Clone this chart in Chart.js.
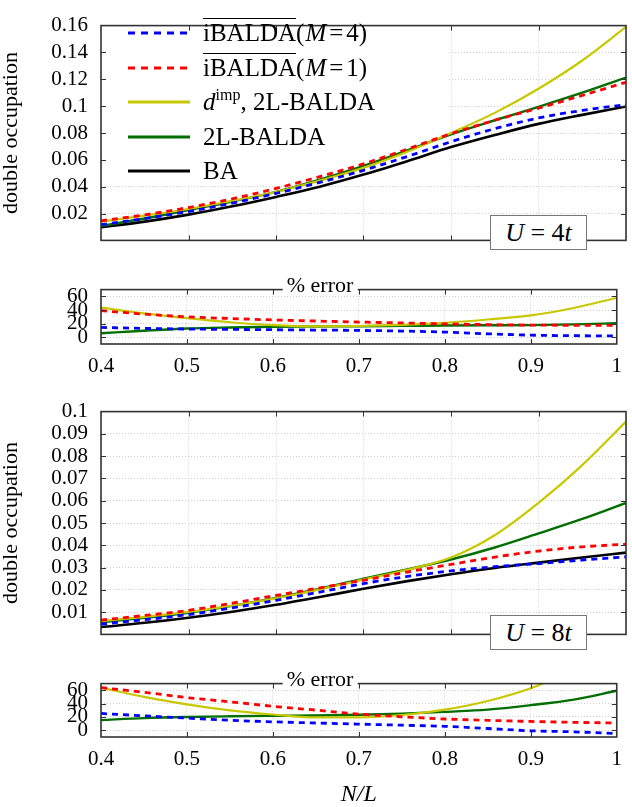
<!DOCTYPE html>
<html>
<head>
<meta charset="utf-8">
<title>double occupation</title>
<script src="https://cdn.jsdelivr.net/npm/chart.js@4.4.1/dist/chart.umd.min.js"></script>
<style>
  body { margin: 0; background: #fff; }
  #page { position: relative; width: 632px; height: 807px; overflow: hidden; font-family: 'Liberation Serif', serif; color: #000; }
  canvas { position: absolute; left: 0; }
  #legend { position: absolute; left: 104px; top: 12px; width: 278px; height: 176px; }
  .row { position: absolute; left: 0; width: 100%; height: 25px; }
  .row svg { position: absolute; left: 24px; top: 10px; }
  .txt { position: absolute; left: 99px; top: 0; font-size: 25px; line-height: 25px; white-space: nowrap; }
  .ov { text-decoration: overline; text-decoration-thickness: 1px; }
  .eq { margin: 0 3px; }
  .par { margin-left: 1px; }
  .txt sup { font-size: 16px; line-height: 0; vertical-align: 10px; }
  .ubox { position: absolute; left: 490px; width: 97px; height: 35px; box-sizing: border-box; border: 1px solid #777; background: #fff; font-size: 26px; line-height: 33px; text-align: center; white-space: nowrap; }
  .err { position: absolute; left: 320px; transform: translateX(-50%); background: #fff; padding: 0 4px; font-size: 22px; line-height: 22px; white-space: nowrap; }
</style>
</head>
<body>
<div id="page">
  <canvas id="u4" width="632" height="266" style="top:0"></canvas>
  <canvas id="u4err" width="632" height="120" style="top:264px"></canvas>
  <canvas id="u8" width="632" height="274" style="top:386px"></canvas>
  <canvas id="u8err" width="632" height="149" style="top:658px"></canvas>

  <div id="legend">
    <div class="row" style="top:8px"><svg width="62" height="6"><line x1="0" y1="3" x2="62" y2="3" stroke="#0000ff" stroke-width="3" stroke-dasharray="7 6"/></svg><span class="txt"><span class="ov">iBALDA</span>(<i class="par">M</i><span class="eq">=</span>4)</span></div>
    <div class="row" style="top:43px"><svg width="62" height="6"><line x1="0" y1="3" x2="62" y2="3" stroke="#ff0000" stroke-width="3" stroke-dasharray="7 6"/></svg><span class="txt"><span class="ov">iBALDA</span>(<i class="par">M</i><span class="eq">=</span>1)</span></div>
    <div class="row" style="top:77px"><svg width="62" height="6"><line x1="0" y1="3" x2="62" y2="3" stroke="#c8c800" stroke-width="3"/></svg><span class="txt"><i>d</i><sup>imp</sup>, 2L-BALDA</span></div>
    <div class="row" style="top:112px"><svg width="62" height="6"><line x1="0" y1="3" x2="62" y2="3" stroke="#006e00" stroke-width="3"/></svg><span class="txt">2L-BALDA</span></div>
    <div class="row" style="top:146px"><svg width="62" height="6"><line x1="0" y1="3" x2="62" y2="3" stroke="#000" stroke-width="3"/></svg><span class="txt">BA</span></div>
  </div>

  <div class="ubox" style="top:215px"><i>U</i>&nbsp;=&nbsp;4<i>t</i></div>
  <div class="ubox" style="top:615px"><i>U</i>&nbsp;=&nbsp;8<i>t</i></div>
  <div class="err" style="top:274px">% error</div>
  <div class="err" style="top:668px">% error</div>
</div>

<script>
// filling N/L
const nL = [0.4, 0.45, 0.5, 0.55, 0.6, 0.65, 0.7, 0.75, 0.8, 0.85, 0.9, 0.95, 1.0];

// U = 4t, double occupation
const iBaldaM4_U4 = [0.0117, 0.0163, 0.0215, 0.0278, 0.035, 0.0432, 0.0522, 0.0625, 0.0735, 0.0832, 0.0912, 0.0968, 0.1012];
const iBaldaM1_U4 = [0.0146, 0.019, 0.0245, 0.031, 0.0387, 0.0475, 0.057, 0.068, 0.0795, 0.0895, 0.0985, 0.108, 0.1178];
const dImp_U4 = [0.014, 0.0185, 0.0234, 0.0295, 0.036, 0.0445, 0.054, 0.066, 0.080, 0.095, 0.113, 0.134, 0.159];
const twoL_U4 = [0.0108, 0.0163, 0.0226, 0.029, 0.0362, 0.0453, 0.0555, 0.067, 0.079, 0.0895, 0.0995, 0.110, 0.1213];
const ba_U4 = [0.0098, 0.014, 0.0192, 0.0254, 0.0324, 0.040, 0.049, 0.059, 0.0695, 0.0785, 0.0868, 0.0935, 0.0998];

// U = 4t, % error
const errM4_U4 = [14.4, 13, 12, 11.5, 11, 10.5, 10, 9, 7.5, 5, 3, 2.2, 2];
const errM1_U4 = [39, 34, 30, 27.5, 25.4, 23.8, 22.3, 21, 19.5, 18.5, 17.8, 17.5, 17.3];
const errDImp_U4 = [43.5, 35, 28, 22, 17.8, 16, 16.5, 18, 21, 26, 32, 43, 58];
const errTwoL_U4 = [5.8, 9.5, 12.7, 14.3, 15.4, 15.8, 16.1, 16.6, 17.1, 17.5, 17.8, 18.8, 20.6];

// U = 8t, double occupation
const iBaldaM4_U8 = [0.0046, 0.0066, 0.0089, 0.0119, 0.0153, 0.019, 0.0228, 0.026, 0.0285, 0.0304, 0.0318, 0.0334, 0.0348];
const iBaldaM1_U8 = [0.0064, 0.0085, 0.0108, 0.014, 0.0175, 0.0209, 0.0243, 0.028, 0.0314, 0.0347, 0.0374, 0.0393, 0.0405];
const dImp_U8 = [0.006, 0.0079, 0.0101, 0.0129, 0.0162, 0.0202, 0.0246, 0.029, 0.0345, 0.0445, 0.059, 0.076, 0.0955];
const twoL_U8 = [0.0054, 0.0074, 0.0097, 0.0128, 0.0164, 0.0205, 0.025, 0.0292, 0.0336, 0.039, 0.0453, 0.0518, 0.059];
const ba_U8 = [0.0033, 0.0052, 0.0075, 0.0102, 0.0133, 0.0168, 0.0205, 0.0239, 0.027, 0.0298, 0.0322, 0.0345, 0.0367];

// U = 8t, % error
const errM4_U8 = [25.3, 21.7, 18.3, 15, 12.7, 11, 9.3, 7.7, 6, 2.7, -0.7, -2.3, -4.7];
const errM1_U8 = [64, 57, 49, 42.7, 36, 30.3, 24.3, 20.3, 17, 15, 13.3, 12, 11];
const errDImp_U8 = [64, 50, 39, 30, 23.7, 19.3, 19.3, 23, 31, 44, 63, 92, 130];
const errTwoL_U8 = [15.3, 18.3, 20, 21, 21.7, 22.3, 23.3, 25, 27.7, 31, 37.7, 46, 59.3];

// tick labels
const xTicks = [0.4, 0.5, 0.6, 0.7, 0.8, 0.9, 1];
const u4Ticks = [0.02, 0.04, 0.06, 0.08, 0.1, 0.12, 0.14, 0.16];
const u8Ticks = [0.01, 0.02, 0.03, 0.04, 0.05, 0.06, 0.07, 0.08, 0.09, 0.1];
const errTicks = [0, 20, 40, 60];

const SERIF = "'Liberation Serif', serif";

// line look for each method
const looks = [
  { color: '#0000ff', dash: [6, 5], width: 2.8 },
  { color: '#ff0000', dash: [6, 5], width: 2.8 },
  { color: '#c8c800', dash: [], width: 2.2 },
  { color: '#006e00', dash: [], width: 2.4 },
  { color: '#000000', dash: [], width: 2.6 }
];

const pts = ys => nL.map((x, i) => ({ x: x, y: ys[i] }));

// white patch under the legend: hides the grid, curves still drawn on top
const legendPatch = {
  id: 'legendPatch',
  beforeDatasetsDraw(chart, args, opts) {
    if (!opts.rect) return;
    const r = opts.rect;
    chart.ctx.save();
    chart.ctx.fillStyle = '#fff';
    chart.ctx.fillRect(r[0], r[1], r[2] - r[0], r[3] - r[1]);
    chart.ctx.restore();
  }
};

// frame + inner tick marks like pgfplots
const framePlugin = {
  id: 'frame',
  afterDraw(chart) {
    const { ctx, chartArea: a, scales } = chart;
    ctx.save();
    ctx.strokeStyle = '#333';
    ctx.lineWidth = 1;
    ctx.beginPath();
    scales.y.ticks.forEach(t => {
      const p = Math.round(scales.y.getPixelForValue(t.value)) + 0.5;
      if (p > a.top + 2 && p < a.bottom - 2) {
        ctx.moveTo(a.left, p); ctx.lineTo(a.left + 5, p);
        ctx.moveTo(a.right, p); ctx.lineTo(a.right - 5, p);
      }
    });
    scales.x.ticks.forEach(t => {
      const p = Math.round(scales.x.getPixelForValue(t.value)) + 0.5;
      if (p > a.left + 2 && p < a.right - 2) {
        ctx.moveTo(p, a.top); ctx.lineTo(p, a.top + 5);
        ctx.moveTo(p, a.bottom); ctx.lineTo(p, a.bottom - 5);
      }
    });
    ctx.stroke();
    ctx.lineWidth = 1.6;
    ctx.strokeRect(a.left, a.top, a.right - a.left, a.bottom - a.top);
    ctx.restore();
  }
};

function panel(id, series, o) {
  return new Chart(document.getElementById(id), {
    type: 'line',
    data: {
      datasets: series.map((ys, i) => ({
        data: pts(ys),
        borderColor: looks[i].color,
        borderDash: looks[i].dash,
        borderWidth: looks[i].width,
        pointRadius: 0,
        cubicInterpolationMode: 'monotone',
        clip: 0
      }))
    },
    options: {
      responsive: false,
      animation: false,
      events: [],
      layout: { padding: { top: o.padTop, right: 6, left: 0, bottom: 0 } },
      plugins: {
        legend: { display: false },
        tooltip: { enabled: false },
        legendPatch: { rect: o.patch || null }
      },
      scales: {
        x: {
          type: 'linear', min: 0.4, max: 1,
          afterBuildTicks: s => { s.ticks = xTicks.map(v => ({ value: v })); },
          afterFit: s => { s.height = o.xHeight; },
          grid: { color: '#c4c4c4', lineWidth: 0.8, drawTicks: false },
          border: { display: false, dash: [1, 2] },
          ticks: {
            display: o.showX, autoSkip: false, padding: 10, color: '#000', maxRotation: 0,
            font: { family: SERIF, size: 21 },
            callback: v => String(+v.toFixed(2))
          },
          title: {
            display: !!o.xTitle, text: o.xTitle || '', color: '#000',
            font: { family: SERIF, size: 24, style: 'italic', lineHeight: 1 },
            padding: 0
          }
        },
        y: {
          min: o.min, max: o.max,
          afterBuildTicks: s => { s.ticks = o.ticks.map(v => ({ value: v })); },
          afterFit: s => { s.width = 101; },
          grid: { color: '#c4c4c4', lineWidth: 0.8, drawTicks: false },
          border: { display: false, dash: [1, 2] },
          ticks: {
            autoSkip: false, padding: 13, color: '#000',
            font: { family: SERIF, size: 21 },
            callback: v => String(+v.toFixed(3))
          },
          title: {
            display: !!o.yTitle, text: o.yTitle || '', color: '#000',
            font: { family: SERIF, size: 22, lineHeight: 1 },
            padding: 0
          }
        }
      }
    },
    plugins: [legendPatch, framePlugin]
  });
}

panel('u4', [iBaldaM4_U4, iBaldaM1_U4, dImp_U4, twoL_U4, ba_U4],
  { padTop: 10, xHeight: 1, showX: false, min: 0, max: 0.16, ticks: u4Ticks, yTitle: 'double occupation', patch: [102, 11, 448, 186] });
panel('u4err', [errM4_U4, errM1_U4, errDImp_U4, errTwoL_U4],
  { padTop: 1, xHeight: 40, showX: true, min: -10, max: 70, ticks: errTicks });
panel('u8', [iBaldaM4_U8, iBaldaM1_U8, dImp_U8, twoL_U8, ba_U8],
  { padTop: 10, xHeight: 1, showX: false, min: 0, max: 0.1, ticks: u8Ticks, yTitle: 'double occupation' });
panel('u8err', [errM4_U8, errM1_U8, errDImp_U8, errTwoL_U8],
  { padTop: 1, xHeight: 70, showX: true, min: -10, max: 70, ticks: errTicks, xTitle: 'N/L' });
</script>
</body>
</html>
